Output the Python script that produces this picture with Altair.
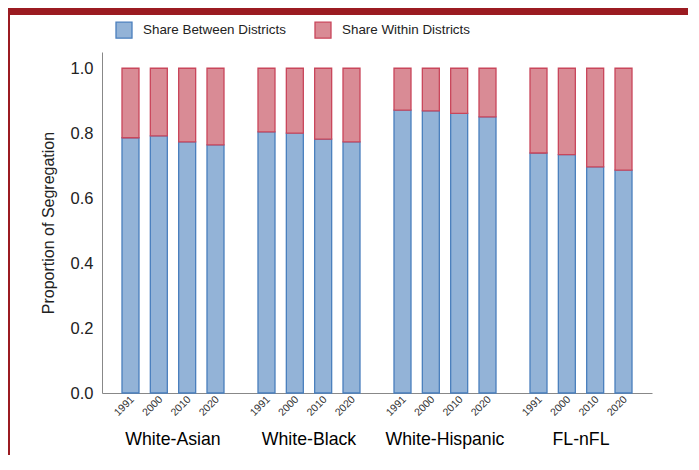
import altair as alt
import pandas as pd

groups = ["White-Asian", "White-Black", "White-Hispanic", "FL-nFL"]
years = ["1991", "2000", "2010", "2020"]
share_between = [
    [0.786, 0.792, 0.773, 0.764],
    [0.804, 0.800, 0.782, 0.773],
    [0.871, 0.869, 0.861, 0.850],
    [0.739, 0.734, 0.696, 0.686],
]
share_within = [
    [0.214, 0.208, 0.227, 0.236],
    [0.196, 0.200, 0.218, 0.227],
    [0.129, 0.131, 0.139, 0.150],
    [0.261, 0.266, 0.304, 0.314],
]
series = ["Share Between Districts", "Share Within Districts"]
fill_colors = ["#93b3d7", "#d98b95"]
stroke_colors = ["#4a7fbd", "#c9465b"]
y_ticks = [0.0, 0.2, 0.4, 0.6, 0.8, 1.0]

rows = []
for gi, g in enumerate(groups):
    for yi, yr in enumerate(years):
        rows.append({"group": g, "year": yr, "series": series[0], "value": share_between[gi][yi], "ord": 0})
        rows.append({"group": g, "year": yr, "series": series[1], "value": share_within[gi][yi], "ord": 1})
df = pd.DataFrame(rows)

labels_df = pd.DataFrame([{"group": g, "year": yr} for g in groups for yr in years])

FONT = "Liberation Sans"

x_enc = alt.X("group:N", sort=groups,
              scale=alt.Scale(paddingInner=0.25, paddingOuter=0.147),
              axis=alt.Axis(title=None, labelAngle=0, labelFontSize=17.7, labelColor="#000000",
                            labelPadding=37, ticks=False, domainColor="#888888", domainWidth=1))
xo_enc = alt.XOffset("year:N", sort=years, scale=alt.Scale(paddingInner=0.4, paddingOuter=0))

legend_cfg = dict(title=None, orient="none", direction="horizontal",
                  legendX=13, legendY=-31, symbolType="square",
                  symbolSize=256, symbolStrokeWidth=1.3, labelFontSize=13.4,
                  labelColor="#222222", labelOffset=10, columnPadding=26,
                  padding=0)

bars = alt.Chart(df).mark_bar(strokeWidth=1.3).encode(
    x=x_enc,
    xOffset=xo_enc,
    y=alt.Y("value:Q", stack="zero",
            scale=alt.Scale(domain=[0, 1.05], nice=False),
            axis=alt.Axis(title="Proportion of Segregation", values=y_ticks, format=".1f",
                          labelFontSize=16.5, labelColor="#222222", ticks=False, grid=False,
                          labelPadding=9, titleFontSize=16, titleFontWeight="normal",
                          titleColor="#222222", titlePadding=14, domainColor="#888888")),
    fill=alt.Fill("series:N", sort=series,
                  scale=alt.Scale(domain=series, range=fill_colors),
                  legend=alt.Legend(**legend_cfg)),
    stroke=alt.Stroke("series:N", sort=series,
                      scale=alt.Scale(domain=series, range=stroke_colors),
                      legend=alt.Legend(**legend_cfg)),
    order=alt.Order("ord:Q"),
)

year_text = alt.Chart(labels_df).mark_text(
    angle=315, align="right", baseline="middle", fontSize=10.5, color="#333333", dx=3
).encode(
    x=alt.X("group:N", sort=groups),
    xOffset=alt.XOffset("year:N", sort=years),
    y=alt.value(348),
    text="year:N",
)

border_data = alt.Data(values=[{"k": 1}])
top_band = alt.Chart(border_data).mark_rect(color="#9b1b21").encode(
    x=alt.value(-94), x2=alt.value(620), y=alt.value(-44), y2=alt.value(-37)
)
left_band = alt.Chart(border_data).mark_rect(color="#9b1b21").encode(
    x=alt.value(-94), x2=alt.value(-92), y=alt.value(-44), y2=alt.value(420)
)

chart = alt.layer(bars, year_text, top_band, left_band).properties(
    width=550, height=341,
    padding={"left": 94, "top": 44, "right": 36, "bottom": 62},
    autosize="none",
).configure(font=FONT).configure_view(strokeWidth=0)

chart.save("out.html", embed_options={"renderer": "svg", "actions": False})
